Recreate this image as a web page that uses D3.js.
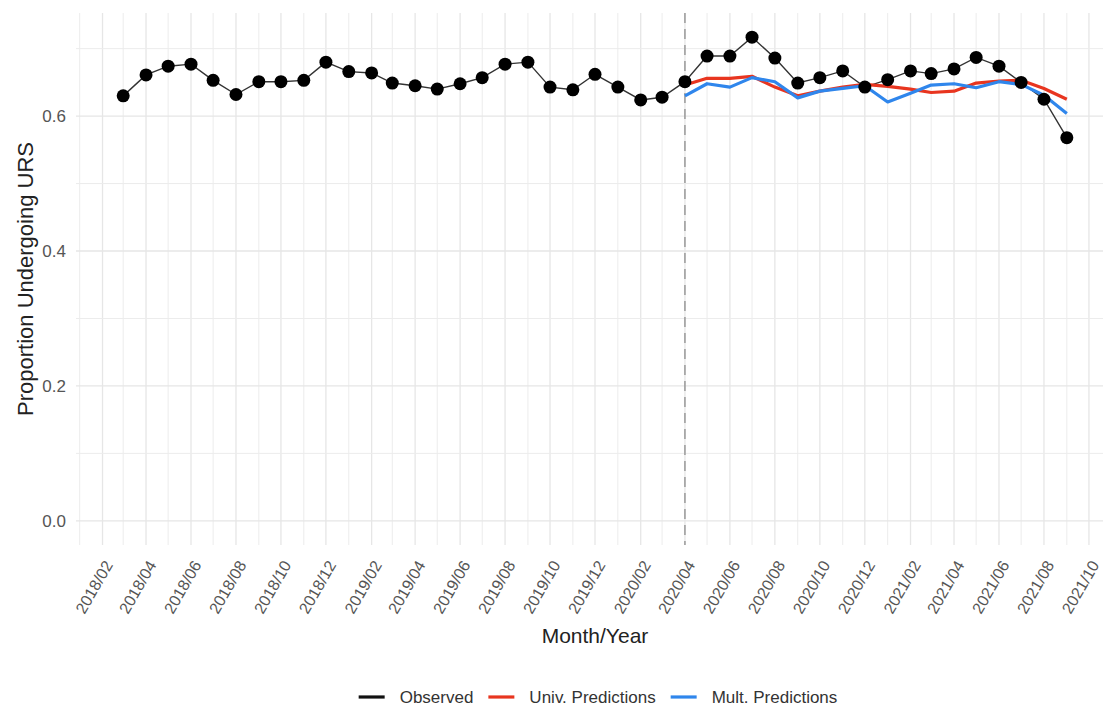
<!DOCTYPE html>
<html>
<head>
<meta charset="utf-8">
<script src="https://cdn.jsdelivr.net/npm/d3@7"></script>
<style>
  body { margin: 0; background: #fff; }
  svg { display: block; font-family: 'Liberation Sans', Arial, sans-serif; }
</style>
</head>
<body>
<div id="chart"></div>
<script>
// monthly series, observed from 2018/03, predictions from 2020/04
const obsStart = '2018-03';
const observed = [
  0.630, 0.661, 0.674, 0.677, 0.653, 0.632, 0.651, 0.651, 0.653, 0.680,
  0.666, 0.664, 0.649, 0.645, 0.640, 0.648, 0.657, 0.677, 0.680, 0.643, 0.639, 0.662,
  0.643, 0.624, 0.628, 0.651, 0.689, 0.689, 0.717, 0.686, 0.649, 0.657, 0.667, 0.643,
  0.654, 0.667, 0.663, 0.670, 0.687, 0.674, 0.650, 0.625, 0.568
];
const predStart = '2020-04';
const univPred = [
  0.646, 0.656, 0.656, 0.659, 0.643, 0.630, 0.637, 0.643, 0.647,
  0.644, 0.640, 0.635, 0.637, 0.649, 0.652, 0.653, 0.641, 0.625
];
const multPred = [
  0.630, 0.648, 0.643, 0.657, 0.651, 0.627, 0.637, 0.641, 0.645,
  0.621, 0.634, 0.646, 0.648, 0.642, 0.651, 0.647, 0.631, 0.604
];
const interventionMonth = '2020-04';
const yTicks = [0, 0.2, 0.4, 0.6];
const yMinorTicks = [0.1, 0.3, 0.5, 0.7];
const seriesNames = ['Observed', 'Univ. Predictions', 'Mult. Predictions'];
const seriesColors = ['#111111', '#e8351f', '#2f86ec'];

const parseMonth = d3.timeParse('%Y-%m');
const fmtMonth = d3.timeFormat('%Y/%m');

function toSeries(start, values) {
  const s = parseMonth(start);
  return values.map((v, i) => ({ date: d3.timeMonth.offset(s, i), value: v }));
}

const obsData = toSeries(obsStart, observed);
const univData = toSeries(predStart, univPred);
const multData = toSeries(predStart, multPred);

const width = 1103, height = 727;
const panel = { left: 76, right: 1114, top: 13, bottom: 545 };

const svg = d3.select('#chart').append('svg')
  .attr('width', width).attr('height', height);

// x: date extent expanded by 5% like ggplot
const ext = d3.extent(obsData, d => d.date);
const pad = (ext[1] - ext[0]) * 0.05;
const x = d3.scaleTime()
  .domain([new Date(+ext[0] - pad), new Date(+ext[1] + pad)])
  .range([panel.left, panel.right]);

const yMax = d3.max(observed);
const y = d3.scaleLinear()
  .domain([-yMax * 0.05, yMax * 1.05])
  .range([panel.bottom, panel.top]);

// labelled breaks on even months (Feb, Apr, ...), minor lines in between
const allMonths = d3.timeMonth.range(d3.timeMonth.ceil(x.domain()[0]), x.domain()[1]);
const majorX = allMonths.filter(d => d.getMonth() % 2 === 1);
const minorX = allMonths.filter(d => d.getMonth() % 2 === 0);

const grid = svg.append('g');
grid.selectAll('.vminor').data(minorX).join('line')
  .attr('x1', d => x(d)).attr('x2', d => x(d))
  .attr('y1', panel.top).attr('y2', panel.bottom)
  .attr('stroke', '#ececec').attr('stroke-width', 1);
grid.selectAll('.vmajor').data(majorX).join('line')
  .attr('x1', d => x(d)).attr('x2', d => x(d))
  .attr('y1', panel.top).attr('y2', panel.bottom)
  .attr('stroke', '#e6e6e6').attr('stroke-width', 1.3);
grid.selectAll('.hminor').data(yMinorTicks).join('line')
  .attr('x1', panel.left).attr('x2', panel.right)
  .attr('y1', d => y(d)).attr('y2', d => y(d))
  .attr('stroke', '#ececec').attr('stroke-width', 1);
grid.selectAll('.hmajor').data(yTicks).join('line')
  .attr('x1', panel.left).attr('x2', panel.right)
  .attr('y1', d => y(d)).attr('y2', d => y(d))
  .attr('stroke', '#e6e6e6').attr('stroke-width', 1.3);

// intervention line
const xi = x(parseMonth(interventionMonth));
svg.append('line')
  .attr('x1', xi).attr('x2', xi).attr('y1', panel.top).attr('y2', panel.bottom)
  .attr('stroke', '#8c8c8c').attr('stroke-width', 1.3)
  .attr('stroke-dasharray', '10,6');

const line = d3.line().x(d => x(d.date)).y(d => y(d.value));

svg.append('path').datum(obsData).attr('d', line)
  .attr('fill', 'none').attr('stroke', '#333').attr('stroke-width', 1.4);
svg.append('path').datum(univData).attr('d', line)
  .attr('fill', 'none').attr('stroke', seriesColors[1]).attr('stroke-width', 3.2)
  .attr('stroke-linejoin', 'round');
svg.append('path').datum(multData).attr('d', line)
  .attr('fill', 'none').attr('stroke', seriesColors[2]).attr('stroke-width', 3.2)
  .attr('stroke-linejoin', 'round');

svg.selectAll('.pt').data(obsData).join('circle')
  .attr('cx', d => x(d.date)).attr('cy', d => y(d.value))
  .attr('r', 6.5).attr('fill', '#000');

// y axis labels
svg.selectAll('.ytick').data(yTicks).join('text')
  .attr('x', 66).attr('y', d => y(d)).attr('dy', '0.35em')
  .attr('text-anchor', 'end').attr('font-size', '17px').attr('fill', '#555')
  .text(d => d3.format('.1f')(d));

// x axis labels, rotated
svg.selectAll('.xtick').data(majorX).join('text')
  .attr('transform', d => `translate(${x(d) + 6},562) rotate(-60)`)
  .attr('dy', '0.35em')
  .attr('text-anchor', 'end').attr('font-size', '16px').attr('fill', '#555')
  .text(d => fmtMonth(d));

// axis titles
svg.append('text')
  .attr('x', (panel.left + panel.right) / 2).attr('y', 643)
  .attr('text-anchor', 'middle').attr('font-size', '21px').attr('fill', '#222')
  .text('Month/Year');
svg.append('text')
  .attr('transform', `translate(33,${(panel.top + panel.bottom) / 2}) rotate(-90)`)
  .attr('text-anchor', 'middle').attr('font-size', '22px').attr('fill', '#222')
  .text('Proportion Undergoing URS');

// legend
const leg = svg.append('g');
const keyW = 26, gapKey = 15, gapItem = 15, legY = 697;
let lx = 0;
seriesNames.forEach((name, i) => {
  const gi = leg.append('g');
  gi.append('line').attr('x1', 0).attr('x2', keyW).attr('y1', 0).attr('y2', 0)
    .attr('stroke', seriesColors[i]).attr('stroke-width', 3.2);
  const t = gi.append('text').attr('x', keyW + gapKey).attr('dy', '0.35em')
    .attr('font-size', '17px').attr('fill', '#333').text(name);
  gi.attr('transform', `translate(${lx},0)`);
  lx += keyW + gapKey + t.node().getComputedTextLength() + gapItem;
});
const legW = lx - gapItem;
leg.attr('transform', `translate(${598 - legW / 2},${legY})`);
</script>
</body>
</html>
